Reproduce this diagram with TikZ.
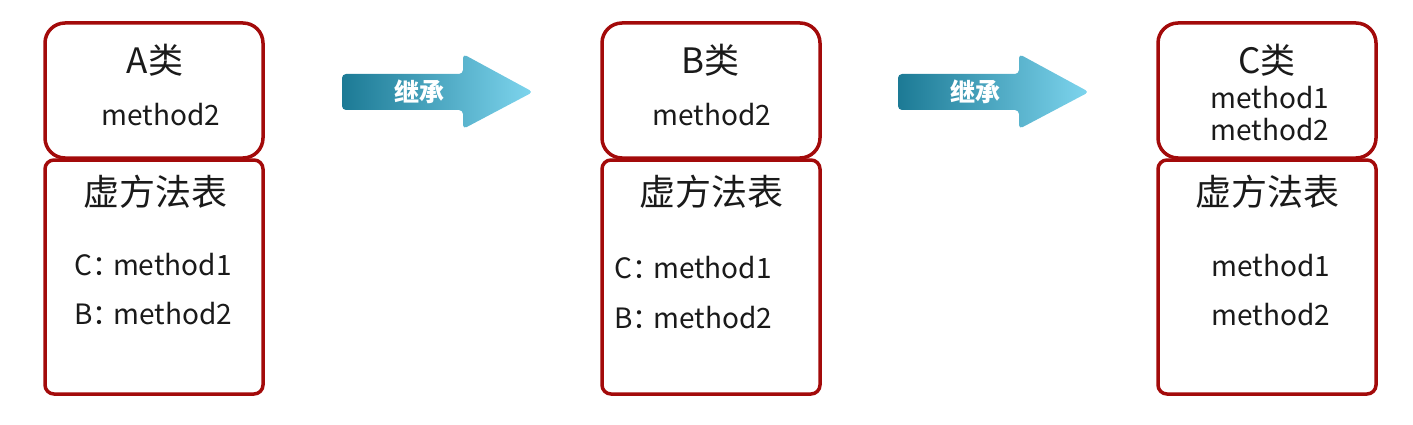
\documentclass[tikz,border=0pt]{standalone}
\usepackage{fontspec}
\setmainfont{Noto Sans CJK SC}
\usetikzlibrary{positioning}
\definecolor{boxred}{HTML}{A30A0A}
\definecolor{txt}{HTML}{1A1A1A}
\definecolor{arrdark}{HTML}{1C7A95}
\definecolor{arrlight}{HTML}{7ED5EE}
\newcommand{\colsep}{：\kern-7pt}
\tikzset{
  topbox/.style={draw=boxred, line width=3.5pt, rounded corners=20pt, fill=white},
  botbox/.style={draw=boxred, line width=3.5pt, rounded corners=9pt, fill=white},
  title/.style={text=txt, font=\fontsize{35}{38}\selectfont, inner sep=0pt},
  vt/.style={text=txt, font=\fontsize{36}{40}\selectfont, inner sep=0pt},
  meth/.style={text=txt, font=\fontsize{28}{32}\selectfont, inner sep=0pt},
  arrlabel/.style={text=white, font=\bfseries\fontsize{25}{28}\selectfont, inner sep=0pt},
}
\begin{document}
\begin{tikzpicture}[x=1pt,y=-1pt]
\useasboundingbox (0,0) rectangle (1413,425);
% boxes
\foreach \n/\x in {A/45,B/602,C/1158}{
  \draw[topbox] (\x,23) rectangle ++(218,135);
  \draw[botbox] (\x,160) rectangle ++(218,234);
}
% A
\node[title] (atitle) at (155,60) {A类};
\node[meth] (am) at (161,115) {method2};
\node[vt] (avt) at (155,192) {虚方法表};
\node[meth, anchor=west] (am1) at (74,265) {C\colsep method1};
\node[meth, anchor=west] (am2) at (74,314) {B\colsep method2};
% B
\node[title] (btitle) at (710,60) {B类};
\node[meth] (bm) at (712,115) {method2};
\node[vt] (bvt) at (711,192) {虚方法表};
\node[meth, anchor=west] (bm1) at (614,268) {C\colsep method1};
\node[meth, anchor=west] (bm2) at (614,318) {B\colsep method2};
% C
\node[title] (ctitle) at (1267,60) {C类};
\node[meth] (cm1) at (1270,98) {method1};
\node[meth] (cm2) at (1270,130) {method2};
\node[vt] (cvt) at (1267,192) {虚方法表};
\node[meth] (cm3) at (1271,266) {method1};
\node[meth] (cm4) at (1271,315) {method2};
% arrows
\foreach \n/\x in {1/342,2/898}{
  \shade[left color=arrdark, right color=arrlight, rounded corners=4pt]
    (\x,74) -- (\x+121,74) -- (\x+121,54) -- (\x+191,92) -- (\x+121,129) -- (\x+121,110) -- (\x,110) -- cycle;
  \node[arrlabel] (arr\n) at (\x+77,92) {继承};
}
\end{tikzpicture}
\end{document}
